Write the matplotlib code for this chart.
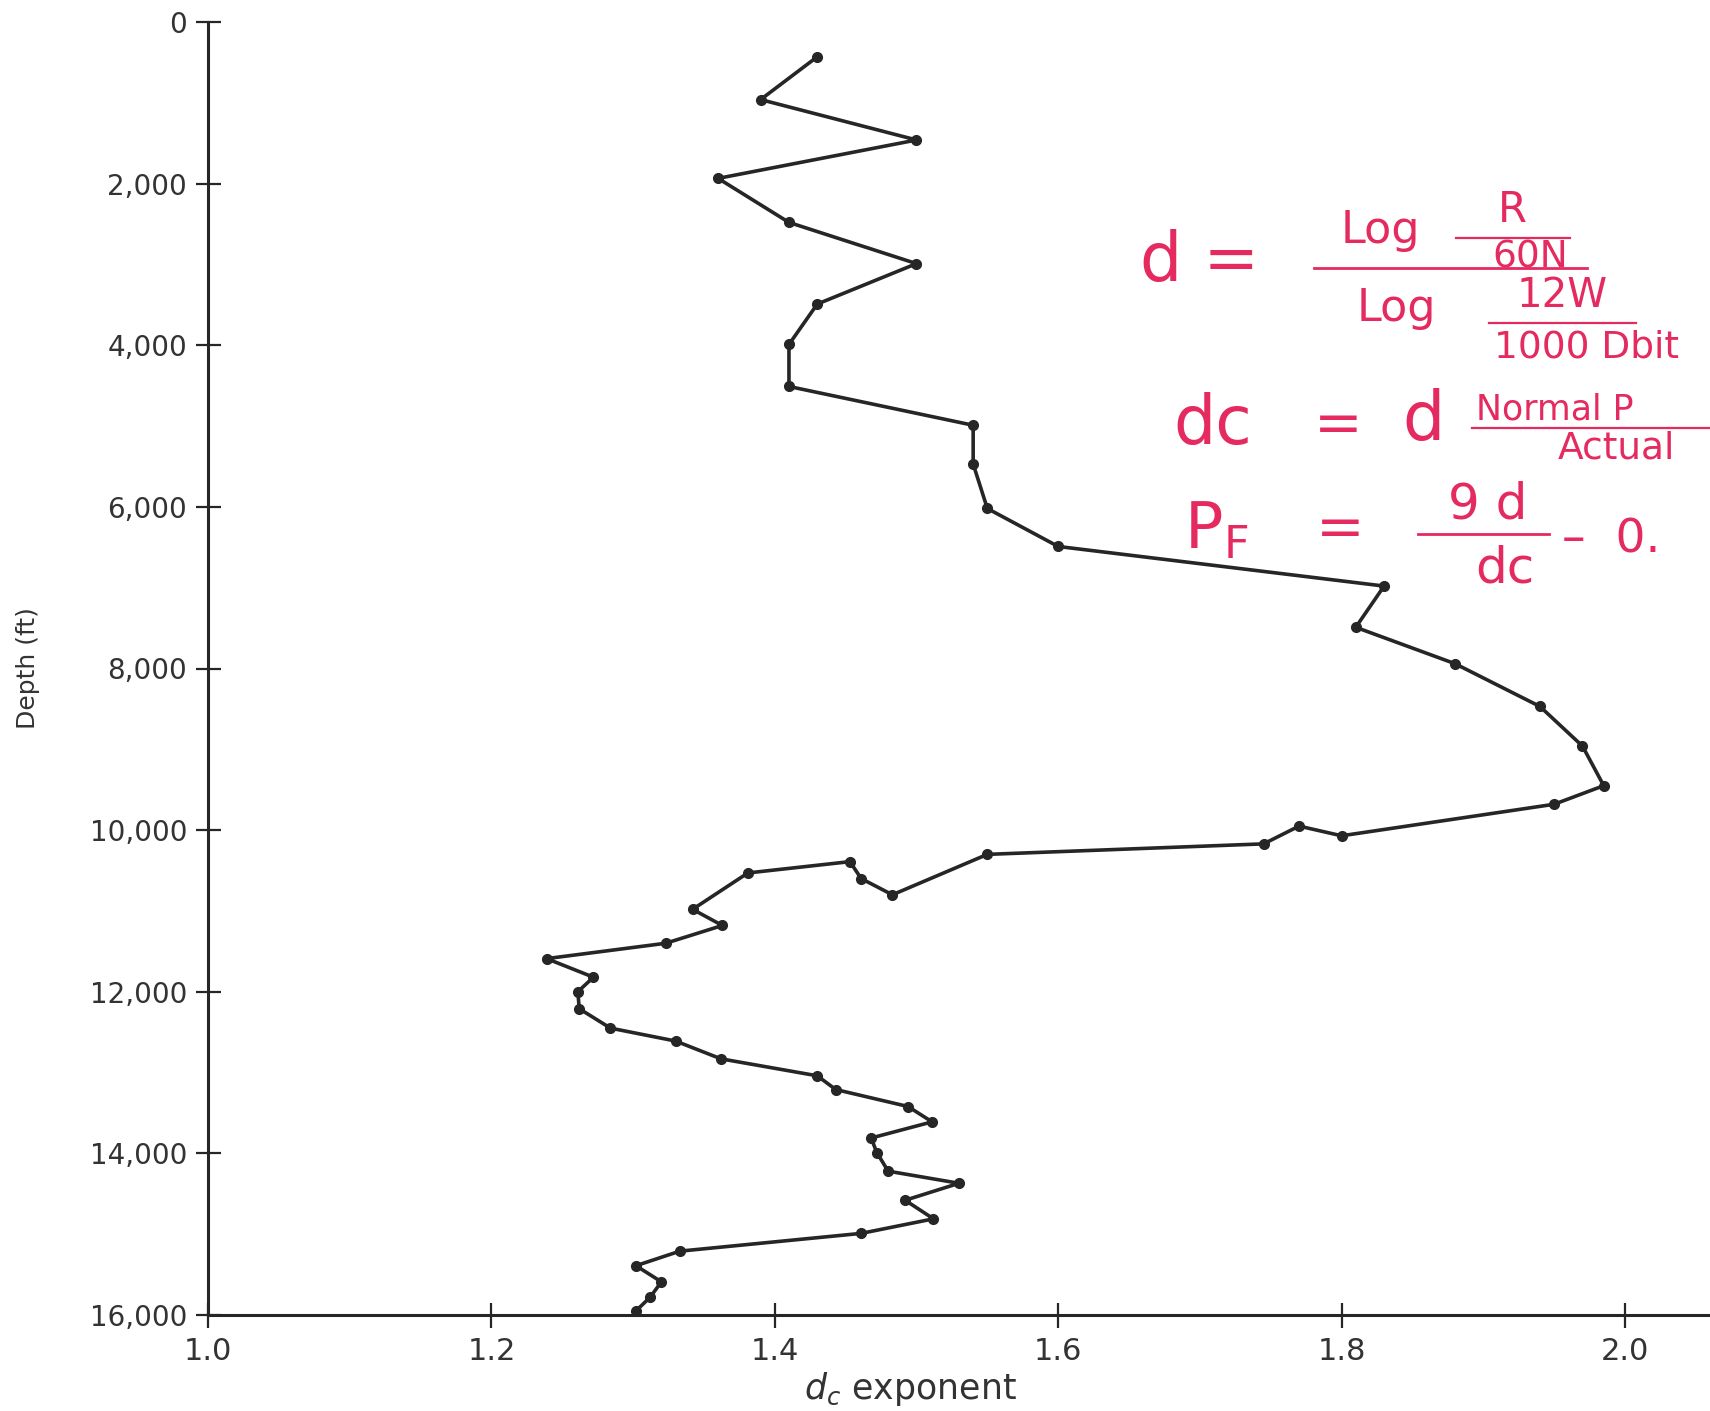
import matplotlib
matplotlib.use("Agg")
import matplotlib.pyplot as plt
from matplotlib.lines import Line2D

dc_exponent = [1.43, 1.39, 1.50, 1.36, 1.41, 1.50, 1.43, 1.41, 1.41, 1.54,
               1.54, 1.55, 1.60, 1.83, 1.81, 1.88, 1.94, 1.97, 1.985, 1.95,
               1.80, 1.77, 1.745, 1.55, 1.483, 1.461, 1.453, 1.381, 1.342, 1.363,
               1.323, 1.239, 1.272, 1.261, 1.262, 1.284, 1.330, 1.362, 1.430, 1.443,
               1.494, 1.511, 1.468, 1.472, 1.480, 1.530, 1.492, 1.512, 1.461, 1.333,
               1.302, 1.320, 1.312, 1.302]
depth_ft = [430, 960, 1460, 1935, 2480, 2990, 3490, 3990, 4510, 4990,
            5470, 6020, 6490, 6980, 7490, 7940, 8470, 8960, 9450, 9680,
            10070, 9950, 10170, 10300, 10800, 10600, 10390, 10530, 10980, 11180,
            11400, 11590, 11820, 12000, 12210, 12450, 12610, 12830, 13040, 13210,
            13420, 13610, 13810, 13990, 14220, 14370, 14580, 14810, 14990, 15210,
            15390, 15590, 15780, 15950]

depth_ticks = [0, 2000, 4000, 6000, 8000, 10000, 12000, 14000, 16000]
depth_labels = ["0", "2,000", "4,000", "6,000", "8,000", "10,000", "12,000", "14,000", "16,000"]
dc_ticks = [1.0, 1.2, 1.4, 1.6, 1.8, 2.0]
dc_labels = ["1.0", "1.2", "1.4", "1.6", "1.8", "2.0"]

W, H = 1710, 1411
ink = "#262626"
red = "#e42a5f"

fig = plt.figure(figsize=(W / 100, H / 100), dpi=100)
ax = fig.add_axes([208 / W, 1 - 1315 / H, 1 - 208 / W, (1315 - 22) / H])

ax.plot(dc_exponent, depth_ft, color=ink, lw=2.6, marker="o", ms=7,
        mfc=ink, mec=ink, solid_capstyle="round")

ax.set_xlim(1.0, 2.06)
ax.set_ylim(16000, 0)
ax.set_xticks(dc_ticks)
ax.set_xticklabels(dc_labels, fontsize=22, color="#333333")
ax.set_yticks(depth_ticks)
ax.set_yticklabels(depth_labels, fontsize=20, color="#333333")
ax.tick_params(axis="both", direction="inout", length=18, width=1.6, color=ink)
ax.tick_params(axis="x", pad=7)
ax.tick_params(axis="y", pad=6)

for s in ["top", "right"]:
    ax.spines[s].set_visible(False)
for s in ["left", "bottom"]:
    ax.spines[s].set_linewidth(2.2)
    ax.spines[s].set_color(ink)

ax.set_ylabel("Depth (ft)", fontsize=18, color="#333333", labelpad=36)

# x label low on the page, as in the scan
fig.text(910 / W, 12 / H, r"$d_c$ exponent", fontsize=25, color="#333333",
         ha="center", va="baseline")


# ---------------- red handwritten formulas ----------------
def px(x, y):
    return x / W, 1 - y / H


def bar(x1, x2, y, lw=2.0):
    fig.add_artist(Line2D([x1 / W, x2 / W], [1 - y / H, 1 - y / H],
                          transform=fig.transFigure, color=red, lw=lw))


def note(x, y, s, size, ha="center"):
    fig.text(*px(x, y), s, fontsize=size, color=red, ha=ha, va="center")


# d = Log(R/60N) / Log(12W/1000 Dbit)
note(1140, 262, "d =", 48, ha="left")
bar(1314, 1587, 268)
note(1380, 231, "Log", 32)
note(1512, 210, "R", 30)
bar(1456, 1570, 238, lw=1.6)
note(1530, 257, "60N", 27)
note(1396, 309, "Log", 32)
note(1562, 296, "12W", 29)
bar(1489, 1636, 323, lw=1.6)
note(1494, 348, "1000 Dbit", 27, ha="left")

# dc = d Normal P / Actual
note(1213, 425, "dc", 48)
note(1338, 425, "=", 42)
note(1423, 421, "d", 48)
note(1476, 409, "Normal P", 25, ha="left")
bar(1472, 1712, 428, lw=1.6)
note(1558, 449, "Actual", 27, ha="left")

# PF = 9d/dc - 0.
note(1216, 529, r"P$_\mathregular{F}$", 46)
note(1340, 530, "=", 42)
note(1488, 504, "9 d", 36)
bar(1418, 1549, 534)
note(1505, 568, "dc", 36)
note(1562, 540, "\u2013  0.", 34, ha="left")

fig.savefig("out.png", dpi=100, facecolor="white")
